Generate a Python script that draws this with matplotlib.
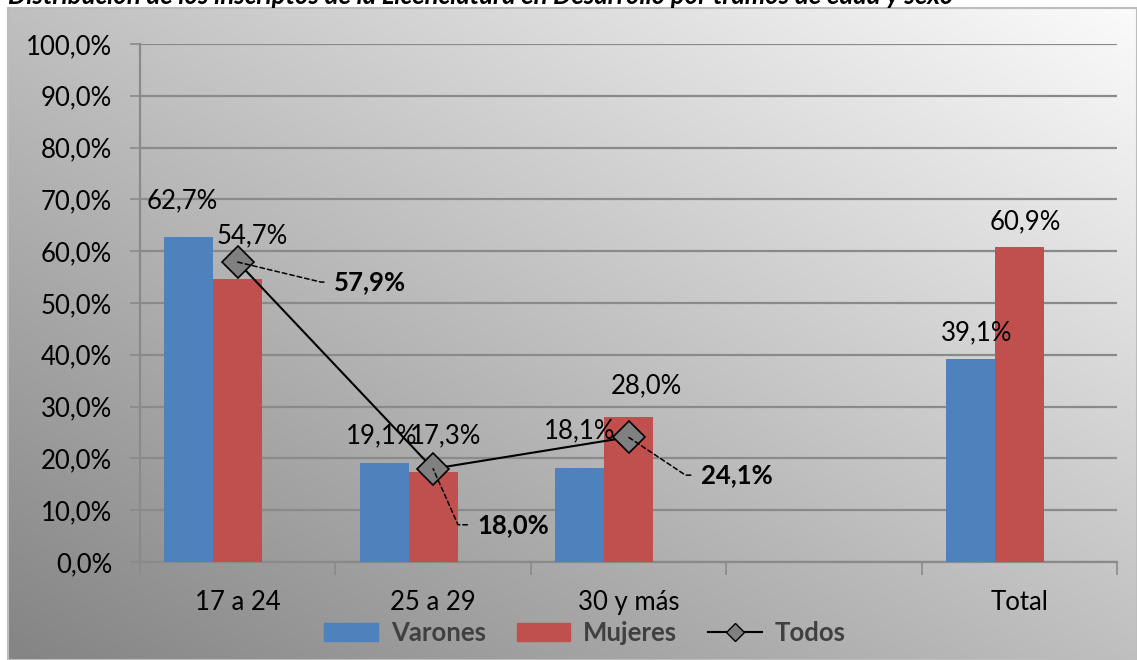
import numpy as np
import matplotlib
matplotlib.use("Agg")
import matplotlib.pyplot as plt
from matplotlib.lines import Line2D
from matplotlib.patches import Patch, Rectangle

# ---- data ----
categories = ["17 a 24", "25 a 29", "30 y más", "", "Total"]
varones = [62.7, 19.1, 18.1, np.nan, 39.1]
mujeres = [54.7, 17.3, 28.0, np.nan, 60.9]
todos_idx = [0, 1, 2]
todos = [57.9, 18.0, 24.1]
yticks = [0, 10, 20, 30, 40, 50, 60, 70, 80, 90, 100]
title = "Distribución de los inscriptos de la Licenciatura en Desarrollo por tramos de edad y sexo"

# ---- style ----
FONT = "Lato"
FS = 18.5
plt.rcParams['font.family'] = [FONT, 'DejaVu Sans']
BLUE = "#4f81bd"
RED = "#c0504d"
GRID = "#8a8a8a"

W, H = 1137, 660
fig = plt.figure(figsize=(W / 100, H / 100), dpi=100)

# background gradient (chart area)
bg = fig.add_axes([8 / W, 0, 1 - 8 / W, 1 - 8 / H], zorder=-10)
nx, ny = 400, 240
u = np.linspace(0, 1, nx)[None, :]
v = np.linspace(0, 1, ny)[:, None]  # 0 at top
t = (u + (1 - v)) / 2.0
dark, light = 0x84 / 255, 0xfb / 255
img = dark + (light - dark) * t
bg.imshow(np.dstack([img, img, img]), aspect='auto', extent=[0, 1, 0, 1], origin='upper')
bg.set_xlim(0, 1); bg.set_ylim(0, 1)
bg.axis('off')
bg.add_patch(Rectangle((0, 0), 1, 1, fill=False, edgecolor="#bdbdbd", lw=1.5, transform=bg.transAxes, clip_on=False))

fig.text(8 / W, 1 - 4 / H, title, fontsize=18.5, fontweight='bold', fontstyle='italic',
         ha='left', va='baseline', color='black')

ax = fig.add_axes([140 / W, 1 - 562 / H, (1117 - 140) / W, (562 - 44) / H])
ax.patch.set_alpha(0)

x = np.arange(len(categories))
bw = 0.25
# clustered as three slots (third slot is the line series), so bars sit left of centre
ax.bar(x - bw, varones, width=bw, color=BLUE, zorder=3)
ax.bar(x, mujeres, width=bw, color=RED, zorder=3)
ax.plot(todos_idx, todos, color='black', lw=1.5, marker='D', markersize=16,
        markerfacecolor='#808080', markeredgecolor='black', markeredgewidth=1.2, zorder=5)

ax.set_xlim(-0.5, len(categories) - 0.5)
ax.set_ylim(0, 100)
ax.set_yticks(yticks)
ax.set_yticklabels([f"{v:.1f}".replace('.', ',') + "%" for v in yticks], fontsize=FS)
ax.set_xticks(x)
ax.set_xticklabels(categories, fontsize=FS)
ax.set_xticks(np.arange(len(categories) + 1) - 0.5, minor=True)
ax.tick_params(axis='x', which='major', length=0, pad=20)
ax.tick_params(axis='x', which='minor', length=9, color=GRID, width=1.2)
ax.tick_params(axis='y', length=7, color=GRID, width=1.2, pad=13)
ax.grid(axis='y', color=GRID, lw=1.6, zorder=0)
ax.set_axisbelow(True)
for s in ['top', 'right']:
    ax.spines[s].set_visible(False)
for s in ['left', 'bottom']:
    ax.spines[s].set_color(GRID)
    ax.spines[s].set_linewidth(1.6)

def fmt(v):
    return f"{v:.1f}".replace('.', ',') + "%"

# data labels (nudges in pixels: dx, gap above bar)
v_nudge = [(-7, 29), (-3, 20), (0, 30), (0, 0), (6, 19)]
m_nudge = [(15, 35), (12, 29), (18, 24), (0, 0), (6, 17)]
for i in range(len(categories)):
    if not np.isnan(varones[i]):
        ax.annotate(fmt(varones[i]), (x[i] - bw, varones[i]), xytext=v_nudge[i],
                    textcoords='offset pixels', ha='center', va='baseline', fontsize=FS, zorder=6)
    if not np.isnan(mujeres[i]):
        ax.annotate(fmt(mujeres[i]), (x[i], mujeres[i]), xytext=m_nudge[i],
                    textcoords='offset pixels', ha='center', va='baseline', fontsize=FS, zorder=6)

# Todos labels with dashed leaders
t_offsets = [(96, -20), (44, -56), (72, -38)]
t_angles = [-13.5, -66, -33.7]
for xi, yv, off, ang in zip(todos_idx, todos, t_offsets, t_angles):
    ax.annotate(fmt(yv), (xi, yv), xytext=off, textcoords='offset pixels',
                ha='left', va='center', fontsize=FS, fontweight='bold', zorder=7,
                arrowprops=dict(arrowstyle='-', linestyle=(0, (3, 2)), color='black', lw=1.1,
                                shrinkA=5, shrinkB=0,
                                connectionstyle=f"angle,angleA=0,angleB={ang},rad=0"))

handles = [Patch(color=BLUE, label='Varones'), Patch(color=RED, label='Mujeres'),
           Line2D([0], [0], color='black', lw=1.5, marker='D', markersize=9,
                  markerfacecolor='#808080', markeredgecolor='black', label='Todos')]
leg = fig.legend(handles=handles, loc='center', bbox_to_anchor=(585 / W, 1 - 633 / H), ncol=3,
                 frameon=False, prop={'family': FONT, 'weight': 'bold', 'size': FS},
                 handlelength=2.1, handleheight=0.7, handletextpad=0.5, columnspacing=1.2)
for t_ in leg.get_texts():
    t_.set_color('#404040')

fig.savefig("out.png", dpi=100)
